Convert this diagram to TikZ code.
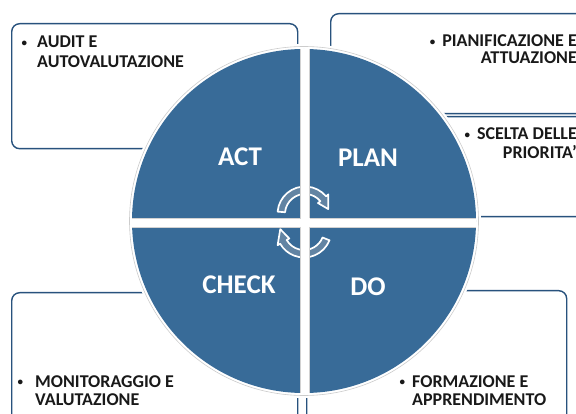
\documentclass[tikz,border=0pt]{standalone}
\usepackage{fontspec}
\setmainfont{Carlito}
\definecolor{cblue}{RGB}{56,107,152}
\definecolor{bline}{RGB}{40,82,125}
\definecolor{arrfill}{RGB}{98,132,163}
\definecolor{txt}{RGB}{25,25,25}
\newcommand\mybul{\raisebox{1.8pt}{\fontsize{11}{11}\selectfont •}}
\begin{document}
\begin{tikzpicture}[x=1pt,y=-1pt,
  box/.style={draw=bline, line width=1.4pt, rounded corners=8pt, anchor=north west, inner sep=0pt},
  boxtext/.style={inner sep=0pt, font=\bfseries, text=txt},
  phase/.style={inner sep=0pt, font=\bfseries\fontsize{27}{30}\selectfont, text=white},
  cyc/.style={fill=arrfill, draw=white, line width=1.7pt, line join=round},
  band/.style={fill=white},
  bandedge/.style={draw=gray!35, line width=0.6pt}]
\useasboundingbox (0,0) rectangle (576,414);
\clip (0,0) rectangle (576,414);
% boxes
\node[box, minimum width=286pt, minimum height=125pt] (tlbox) at (11,23) {};
\node[box, minimum width=280pt, minimum height=100pt] (trbox) at (330,13) {};
\node[box, minimum width=280pt, minimum height=100pt] (trbox2) at (330,116) {};
\node[box, minimum width=286pt, minimum height=150pt] (blbox) at (11,292) {};
\node[box, minimum width=260pt, minimum height=150pt] (brbox) at (306,290) {};
% circle
\fill[white] (304,221) circle[radius=177pt];
\draw[gray!40, line width=0.6pt] (304,221) circle[radius=174.5pt];
\node[circle, fill=cblue, minimum size=344pt, inner sep=0pt] (cyclecircle) at (304,221) {};
% cycle arrows
\begin{scope}[shift={(305,214)}]
  \path[cyc] (175:27.5pt) arc[start angle=175, end angle=40, radius=27.5pt]
    -- (40:30.5pt) -- (12:23.75pt) -- (40:17pt) -- (40:20pt)
    arc[start angle=40, end angle=175, radius=20pt] -- cycle;
\end{scope}
\begin{scope}[shift={(304,230)}]
  \path[cyc] (-22:27.5pt) arc[start angle=-22, end angle=-150, radius=27.5pt]
    -- (-150:30.5pt) -- (-182:23.75pt) -- (-150:17pt) -- (-150:20pt)
    arc[start angle=-150, end angle=-22, radius=20pt] -- cycle;
\end{scope}
% white bands
\begin{scope}
  \clip (304,221) circle[radius=172pt];
  \fill[band] (300.5,40) rectangle (309.5,400);
  \fill[band] (125,218) rectangle (485,227);
  \draw[bandedge] (300.5,40) -- (300.5,218) (309.5,40) -- (309.5,218)
                  (300.5,227) -- (300.5,400) (309.5,227) -- (309.5,400);
  \draw[bandedge] (125,218) -- (300.5,218) (309.5,218) -- (485,218)
                  (125,227) -- (300.5,227) (309.5,227) -- (485,227);
\end{scope}
% phase labels
\node[phase] (act) at (240,157) {ACT};
\node[phase] (plan) at (368,158) {PLAN};
\node[phase] (check) at (239,285) {CHECK};
\node[phase] (do) at (368,287) {DO};
% box texts
\node[boxtext, anchor=base west] (tltext) at (37,48)
  {\fontsize{18}{20}\selectfont\begin{tabular}[t]{@{}l@{}}\llap{\mybul\hspace{10pt}}AUDIT E\\AUTOVALUTAZIONE\end{tabular}};
\node[boxtext, anchor=base east] (trtext) at (577,47)
  {\fontsize{18}{16.5}\selectfont\begin{tabular}[t]{@{}r@{}}\mybul\hspace{7pt}PIANIFICAZIONE E\\ATTUAZIONE\end{tabular}};
\node[boxtext, anchor=base east] (trtext2) at (577,140)
  {\fontsize{18}{17}\selectfont\begin{tabular}[t]{@{}r@{}}\mybul\hspace{7pt}SCELTA DELLE\\PRIORITA'\end{tabular}};
\node[boxtext, anchor=base west] (bltext) at (35,387)
  {\fontsize{18}{18.5}\selectfont\begin{tabular}[t]{@{}l@{}}\llap{\mybul\hspace{12pt}}MONITORAGGIO E\\VALUTAZIONE\end{tabular}};
\node[boxtext, anchor=base west] (brtext) at (412,387)
  {\fontsize{18}{18.5}\selectfont\begin{tabular}[t]{@{}l@{}}\llap{\mybul\hspace{7pt}}FORMAZIONE E\\APPRENDIMENTO\end{tabular}};
\end{tikzpicture}
\end{document}
